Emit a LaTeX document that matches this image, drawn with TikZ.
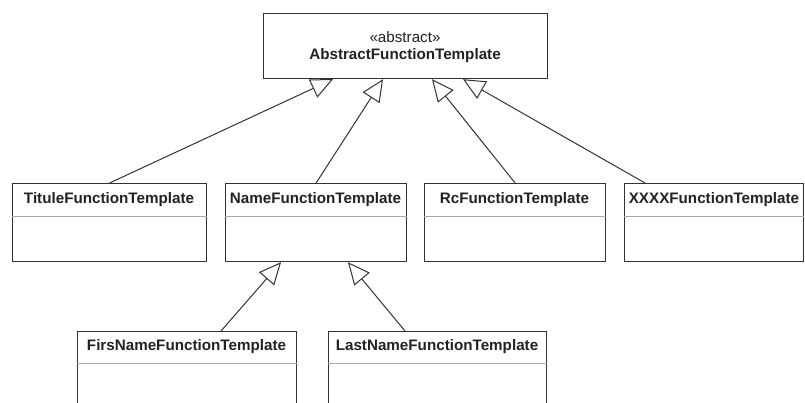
\documentclass[tikz,border=0pt]{standalone}
\usepackage{fontspec}
\setmainfont{Liberation Sans}
\usetikzlibrary{arrows.meta}
\definecolor{ink}{HTML}{222222}
\definecolor{edgecol}{HTML}{333333}
\definecolor{divcol}{HTML}{A8A8A8}
\begin{document}
\begin{tikzpicture}[x=1pt,y=-1pt,
  box/.style n args={2}{draw=edgecol, line width=1.2pt, fill=white, anchor=north west,
    inner sep=0pt, minimum width=#1pt, minimum height=#2pt},
  ttl/.style={inner sep=0pt, text=ink, font=\fontsize{15.2}{18}\selectfont\bfseries},
  stereo/.style={inner sep=0pt, text=ink, font=\fontsize{15.2}{18}\selectfont},
  divline/.style={draw=divcol, line width=1pt},
  inh/.style={draw=edgecol, line width=1pt,
    -{Triangle[open, length=22pt, width=20pt, line width=1pt]}}]
\useasboundingbox (0,0) rectangle (805,402);
\clip (0,0) rectangle (805,402);

% parent
\node[box={284}{65}] (abs) at (263,13) {};
\node[stereo] (abs-st) at (405,37) {«abstract»};
\node[ttl] (abs-t) at (405,56) {AbstractFunctionTemplate};

% first row
\node[box={194}{78}] (titule) at (12,183) {};
\node[ttl] (titule-t) at (109,199.5) {TituleFunctionTemplate};
\draw[divline] ([yshift=-33pt]titule.north west) -- ([yshift=-33pt]titule.north east);

\node[box={181}{78}] (name) at (225,183) {};
\node[ttl] (name-t) at (315.5,199.5) {NameFunctionTemplate};
\draw[divline] ([yshift=-33pt]name.north west) -- ([yshift=-33pt]name.north east);

\node[box={181}{78}] (rc) at (424,183) {};
\node[ttl] (rc-t) at (514.5,199.5) {RcFunctionTemplate};
\draw[divline] ([yshift=-33pt]rc.north west) -- ([yshift=-33pt]rc.north east);

\node[box={179}{78}] (xxxx) at (624,183) {};
\node[ttl] (xxxx-t) at (714,199.5) {XXXXFunctionTemplate};
\draw[divline] ([yshift=-33pt]xxxx.north west) -- ([yshift=-33pt]xxxx.north east);

% second row
\node[box={219}{100}] (firs) at (77,331) {};
\node[ttl] (firs-t) at (186.5,347) {FirsNameFunctionTemplate};
\draw[divline] ([yshift=-32pt]firs.north west) -- ([yshift=-32pt]firs.north east);

\node[box={218}{100}] (last) at (328,331) {};
\node[ttl] (last-t) at (437,347) {LastNameFunctionTemplate};
\draw[divline] ([yshift=-32pt]last.north west) -- ([yshift=-32pt]last.north east);

% inheritance connectors
\draw[inh] (titule.north) -- ([xshift=70pt]abs.south west);
\draw[inh] (name.north) -- ([xshift=120pt]abs.south west);
\draw[inh] (rc.north) -- ([xshift=169pt]abs.south west);
\draw[inh] ([xshift=21pt]xxxx.north west) -- ([xshift=200pt]abs.south west);
\draw[inh] ([xshift=144pt]firs.north west) -- ([xshift=56pt]name.south west);
\draw[inh] ([xshift=77pt]last.north west) -- ([xshift=123pt]name.south west);
\end{tikzpicture}
\end{document}
